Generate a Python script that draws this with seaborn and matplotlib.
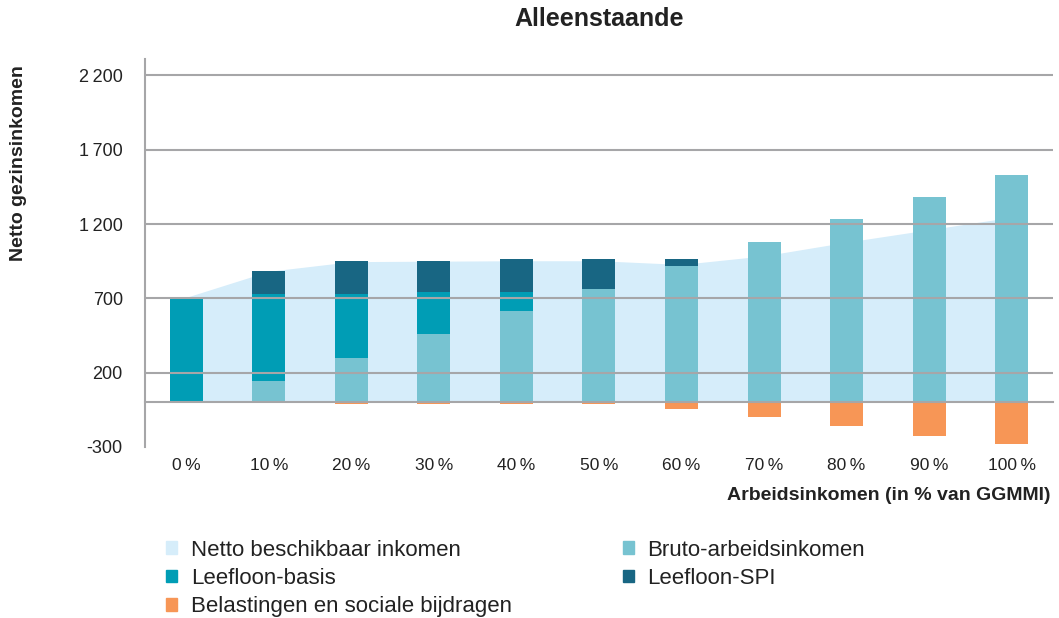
import numpy as np
import pandas as pd
import matplotlib
matplotlib.use("Agg")
import matplotlib.pyplot as plt
from matplotlib.patches import Patch
import seaborn as sns

# Data (EUR per month)
categories = ["0\u2009%", "10\u2009%", "20\u2009%", "30\u2009%", "40\u2009%", "50\u2009%",
              "60\u2009%", "70\u2009%", "80\u2009%", "90\u2009%", "100\u2009%"]
netto = [707, 882, 947, 950, 953, 953, 928, 986, 1078, 1162, 1246]
bruto = [0, 147, 302, 463, 612, 761, 917, 1079, 1233, 1383, 1532]
basis = [707, 580, 425, 278, 129, 0, 0, 0, 0, 0, 0]
spi = [0, 155, 222, 208, 221, 201, 45, 0, 0, 0, 0]
belasting = [0, 0, -8, -8, -8, -8, -47, -97, -157, -225, -279]

yticks = [-300, 200, 700, 1200, 1700, 2200]
ytick_labels = ["-300", "200", "700", "1\u2009200", "1\u2009700", "2\u2009200"]

c_netto = "#d6edfa"
c_bruto = "#77c3d1"
c_basis = "#009db5"
c_spi = "#186683"
c_tax = "#f79656"
c_grid = "#a6a6a8"

df = pd.DataFrame({"cat": categories, "netto": netto, "bruto": bruto,
                   "basis": basis, "spi": spi, "tax": belasting})
df["top_basis"] = df["bruto"] + df["basis"]
df["top_spi"] = df["top_basis"] + df["spi"]

sns.set_style("white")
plt.rcParams["font.family"] = ["Liberation Sans", "DejaVu Sans"]

fig = plt.figure(figsize=(10.59, 6.18), dpi=100)
ax = fig.add_axes([0.1369, 0.2767, 0.8574, 0.6278])

# net disposable income as area behind the bars
ax.fill_between(np.arange(len(categories)), df["netto"], color=c_netto, lw=0, zorder=0)

# stacked bars: draw the cumulative totals from tallest to shortest
bar_kw = dict(width=0.4, saturation=1, linewidth=0, edgecolor="none", ax=ax)
sns.barplot(data=df, x="cat", y="top_spi", color=c_spi, **bar_kw)
sns.barplot(data=df, x="cat", y="top_basis", color=c_basis, **bar_kw)
sns.barplot(data=df, x="cat", y="bruto", color=c_bruto, **bar_kw)
sns.barplot(data=df, x="cat", y="tax", color=c_tax, **bar_kw)

ax.set_xlim(-0.5, len(categories) - 0.5)
ax.set_ylim(-300, 2310)
ax.set_xlabel("")
ax.set_ylabel("")

# gridlines drawn over the bars
ax.set_axisbelow(False)
ax.set_yticks(yticks)
ax.set_yticklabels(ytick_labels)
ax.grid(axis="y", color=c_grid, lw=1.5)
ax.grid(axis="x", visible=False)
ax.yaxis.get_gridlines()[0].set_visible(False)

for side in ["top", "right"]:
    ax.spines[side].set_visible(False)
ax.spines["left"].set_color(c_grid)
ax.spines["left"].set_linewidth(1.5)
ax.spines["bottom"].set_position(("data", 0))
ax.spines["bottom"].set_color(c_grid)
ax.spines["bottom"].set_linewidth(1.5)

ax.tick_params(axis="y", which="major", length=5, width=1.5, color=c_grid,
               labelsize=13, labelcolor="#222222", pad=11)
ax.tick_params(axis="x", which="major", length=0, labelsize=12.5,
               labelcolor="#222222", pad=40)
ax.set_xticks(np.arange(0.5, len(categories)), minor=True)
ax.tick_params(axis="x", which="minor", length=5, width=1.5, color=c_grid,
               direction="out")

fig.text(0.566, 0.969, "Alleenstaande", ha="center", va="center",
         fontsize=18, fontweight="bold", color="#222222")
fig.text(0.017, 0.736, "Netto gezinsinkomen", ha="center", va="center",
         rotation=90, fontsize=14, fontweight="bold", color="#222222")
fig.text(0.992, 0.199, "Arbeidsinkomen (in % van GGMMI)", ha="right", va="center",
         fontsize=14, fontweight="bold", color="#222222")

handles = [Patch(color=c_netto, label="Netto beschikbaar inkomen"),
           Patch(color=c_basis, label="Leefloon-basis"),
           Patch(color=c_tax, label="Belastingen en sociale bijdragen"),
           Patch(color=c_bruto, label="Bruto-arbeidsinkomen"),
           Patch(color=c_spi, label="Leefloon-SPI")]
fig.legend(handles=handles, ncol=2, loc="upper left", bbox_to_anchor=(0.157, 0.127),
           frameon=False, fontsize=16, handlelength=0.5, handleheight=0.5,
           handletextpad=0.6, columnspacing=5.0, labelspacing=0.33,
           borderaxespad=0, borderpad=0, labelcolor="#222222")

fig.savefig("out.png", dpi=100)
